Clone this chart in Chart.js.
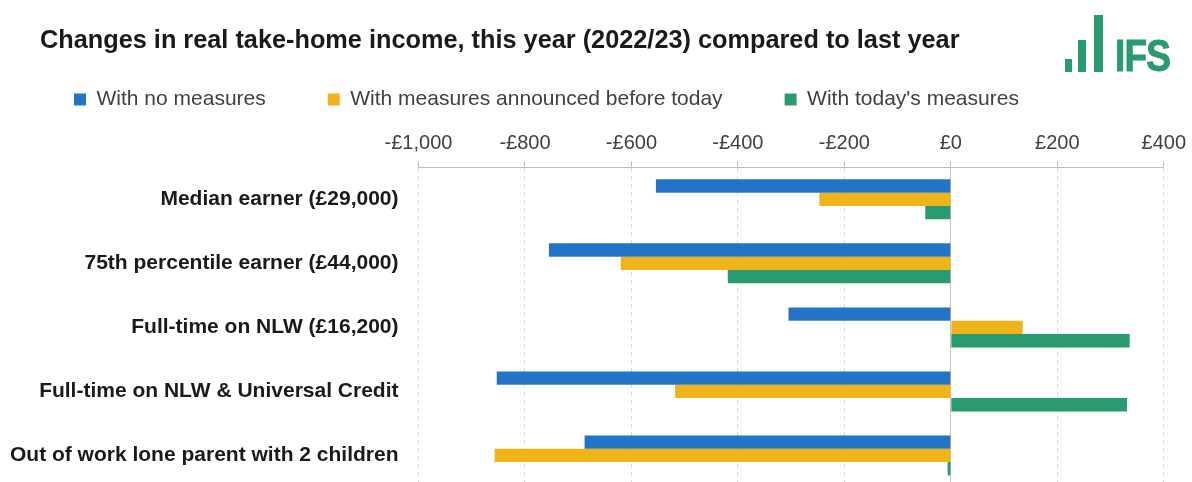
<!DOCTYPE html>
<html>
<head>
<meta charset="utf-8">
<title>Changes in real take-home income</title>
<script src="https://cdn.jsdelivr.net/npm/chart.js@4.4.1/dist/chart.umd.min.js"></script>
<style>
    html, body { margin: 0; padding: 0; background: #fff; overflow: hidden; }
    #wrap { position: relative; width: 1192px; height: 482px; overflow: hidden; }
    #chart { position: absolute; left: 0; top: 0; }
    .logo-bar { position: absolute; background: #2a9b6e; }
    .logo-text {
        position: absolute; left: 1115px; top: 34px;
        font-family: "Liberation Sans", Arial, sans-serif; font-weight: bold;
        font-size: 44px; line-height: 1; color: #2a9b6e;
        letter-spacing: -1px;
        -webkit-text-stroke: 1px #2a9b6e;
        transform: scaleX(0.84); transform-origin: left top;
    }
</style>
</head>
<body>
<div id="wrap">
    <canvas id="chart" width="1192" height="520"></canvas>
    <div class="logo-bar" style="left:1065px; top:59px; width:7px; height:13px;"></div>
    <div class="logo-bar" style="left:1078px; top:40px; width:8px; height:32px;"></div>
    <div class="logo-bar" style="left:1094px; top:15px; width:9px; height:57px;"></div>
    <div class="logo-text">IFS</div>
</div>

<script>
/**************** DATA ****************/
const categories = [
    "Median earner (£29,000)",
    "75th percentile earner (£44,000)",
    "Full-time on NLW (£16,200)",
    "Full-time on NLW & Universal Credit",
    "Out of work lone parent with 2 children"
];

const seriesNames = ["With no measures", "With measures announced before today", "With today's measures"];

const noMeasures     = [-554, -755, -305, -853, -688];
const measuresBefore = [-247, -620, 135, -518, -857];
const todaysMeasures = [-48, -419, 336, 331, -6];

const xMin = -1000;
const xMax = 400;
const xStep = 200;

const colours = ["#2274c8", "#f0b418", "#2a9b6e"];

/**************** HELPERS ****************/
function formatPounds(v) {
    const abs = Math.abs(v).toLocaleString("en-GB");
    return (v < 0 ? "-£" : "£") + abs;
}

// moves title and legend to where the original puts them
const headerNudge = {
    id: "headerNudge",
    afterLayout(chart) {
        if (chart.titleBlock) {
            chart.titleBlock.left = 40;
            chart.titleBlock.top = 26;
        }
        if (chart.legend) {
            chart.legend.left = 12;
            chart.legend.top = 27;
        }
    }
};

/**************** CHART ****************/
Chart.defaults.font.family = '"Liberation Sans", Arial, sans-serif';

new Chart(document.getElementById("chart"), {
    type: "bar",
    data: {
        labels: categories,
        datasets: [
            { label: seriesNames[0], data: noMeasures, backgroundColor: colours[0] },
            { label: seriesNames[1], data: measuresBefore, backgroundColor: colours[1] },
            { label: seriesNames[2], data: todaysMeasures, backgroundColor: colours[2] }
        ]
    },
    options: {
        indexAxis: "y",
        responsive: false,
        animation: false,
        devicePixelRatio: 1,
        layout: { padding: { top: 0, left: 0, right: 28, bottom: 0 } },
        datasets: {
            bar: { barPercentage: 1, categoryPercentage: 0.625, borderWidth: 0 }
        },
        plugins: {
            title: {
                display: true,
                text: "Changes in real take-home income, this year (2022/23) compared to last year",
                align: "start",
                color: "#1a1a1a",
                font: { size: 25.3, weight: "bold" },
                padding: { top: 0, bottom: 0 }
            },
            legend: {
                position: "top",
                align: "start",
                labels: {
                    boxWidth: 12,
                    boxHeight: 12,
                    padding: 62,
                    color: "#404040",
                    font: { size: 21 }
                }
            },
            tooltip: { enabled: false }
        },
        scales: {
            x: {
                position: "top",
                min: xMin,
                max: xMax,
                afterFit: s => { s.height = 44; },
                ticks: {
                    stepSize: xStep,
                    padding: 6,
                    color: "#404040",
                    font: { size: 20 },
                    callback: v => formatPounds(v)
                },
                grid: {
                    color: c => (c.tick && c.tick.value === 0) ? "#c4c4c4" : "#d9d9d9",
                    lineWidth: 1,
                    tickLength: 6,
                    tickColor: "#bfbfbf",
                    tickBorderDash: []
                },
                border: {
                    display: true,
                    color: "#bfbfbf",
                    width: 1,
                    dash: c => (c.tick && c.tick.value === 0) ? [] : [4, 4]
                }
            },
            y: {
                afterFit: s => { s.width = 418.5; },
                grid: { display: false, drawTicks: false },
                border: { display: false },
                ticks: {
                    padding: 20,
                    color: "#1a1a1a",
                    font: { size: 21, weight: "bold" }
                }
            }
        }
    },
    plugins: [headerNudge]
});
</script>
</body>
</html>
